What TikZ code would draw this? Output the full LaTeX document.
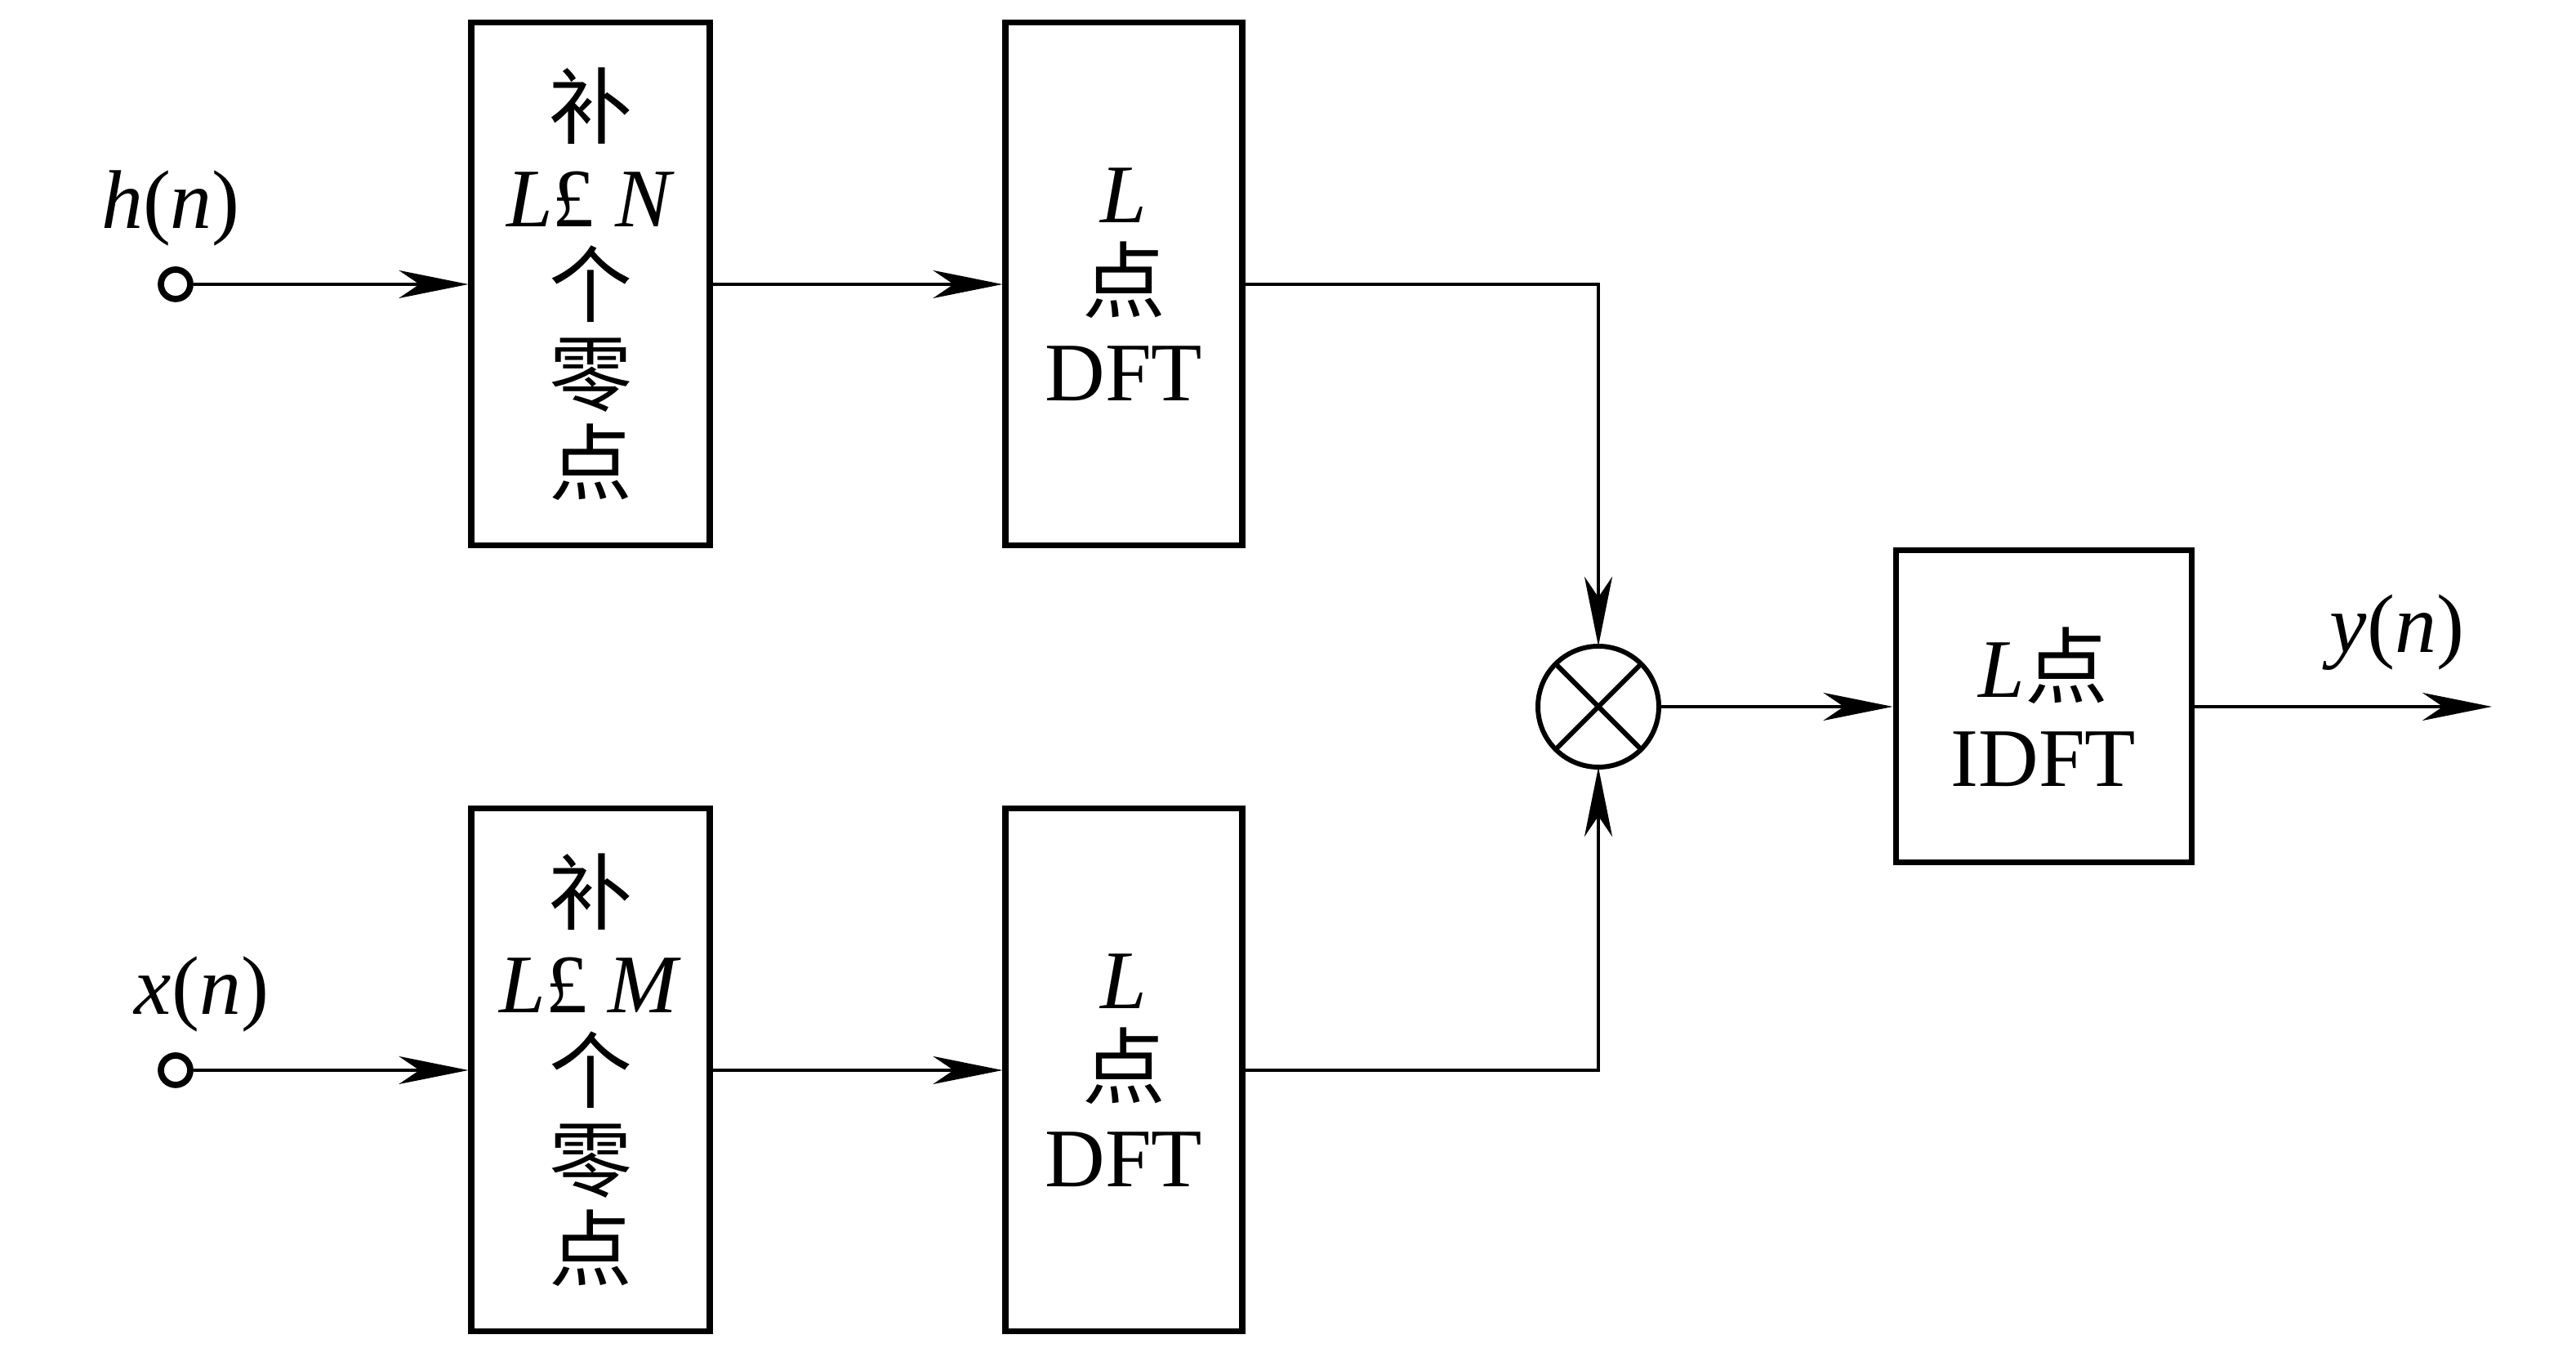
\documentclass[tikz,border=0pt]{standalone}
\usepackage{fontspec}
\setmainfont{Liberation Serif}
\newfontfamily\cjk{Noto Sans CJK SC}
\newcommand{\zh}[1]{{\cjk #1}}
\usetikzlibrary{arrows.meta}

\begin{document}
\begin{tikzpicture}[
    blockBox/.style={draw, line width=2pt, inner sep=0pt, align=center,
        font={\fontsize{29}{31}\selectfont}},
    sigLine/.style={line width=1.3pt, -{Stealth[length=8.5mm, width=3.4mm, inset=2.5mm]}},
    sigLabel/.style={anchor=base, font={\fontsize{29}{31}\selectfont}},
    portDot/.style={circle, draw, line width=2.2pt, fill=white, minimum size=0.36cm, inner sep=0pt},
]
\useasboundingbox (0,0) rectangle (31.54,16.61);

% Zero padding and DFT, upper branch
\node[portDot] (hIn) at (2.15,13.13) {};
\node[sigLabel] (hLbl) at (2.09,13.81) {\textit{h}(\textit{n})};
\node[blockBox, minimum width=2.92cm, minimum height=6.40cm] (padH) at (7.23,13.13)
    {\zh{补}\\\textit{L}£ \textit{N}\\\zh{个}\\\zh{零}\\\zh{点}};
\node[blockBox, minimum width=2.90cm, minimum height=6.40cm] (dftH) at (13.76,13.13)
    {\textit{L}\\\zh{点}\\DFT};

% Zero padding and DFT, lower branch
\node[portDot] (xIn) at (2.15,3.51) {};
\node[sigLabel] (xLbl) at (2.47,4.19) {\textit{x}(\textit{n})};
\node[blockBox, minimum width=2.92cm, minimum height=6.40cm] (padX) at (7.23,3.51)
    {\zh{补}\\\textit{L}£ \textit{M}\\\zh{个}\\\zh{零}\\\zh{点}};
\node[blockBox, minimum width=2.90cm, minimum height=6.40cm] (dftX) at (13.76,3.51)
    {\textit{L}\\\zh{点}\\DFT};

% Product and IDFT
\node[circle, draw, line width=1.7pt, minimum size=1.48cm, inner sep=0pt, outer sep=0pt] (mul) at (19.57,7.96) {};
\draw[line width=1.7pt] (mul.north west) -- (mul.south east) (mul.north east) -- (mul.south west);
\node[blockBox, minimum width=3.62cm, minimum height=3.82cm] (idft) at (25.02,7.96)
    {\textit{L}\zh{点}\\IDFT};
\coordinate (yOut) at (30.51,7.96);
\node[sigLabel] (yLbl) at (29.35,8.62) {\textit{y}(\textit{n})};

% Connections
\draw[sigLine] (hIn) -- (padH);
\draw[sigLine] (padH) -- (dftH);
\draw[sigLine] (dftH.east) -| (mul);
\draw[sigLine] (xIn) -- (padX);
\draw[sigLine] (padX) -- (dftX);
\draw[sigLine] (dftX.east) -| (mul);
\draw[sigLine] (mul) -- (idft);
\draw[sigLine] (idft) -- (yOut);
\end{tikzpicture}
\end{document}
